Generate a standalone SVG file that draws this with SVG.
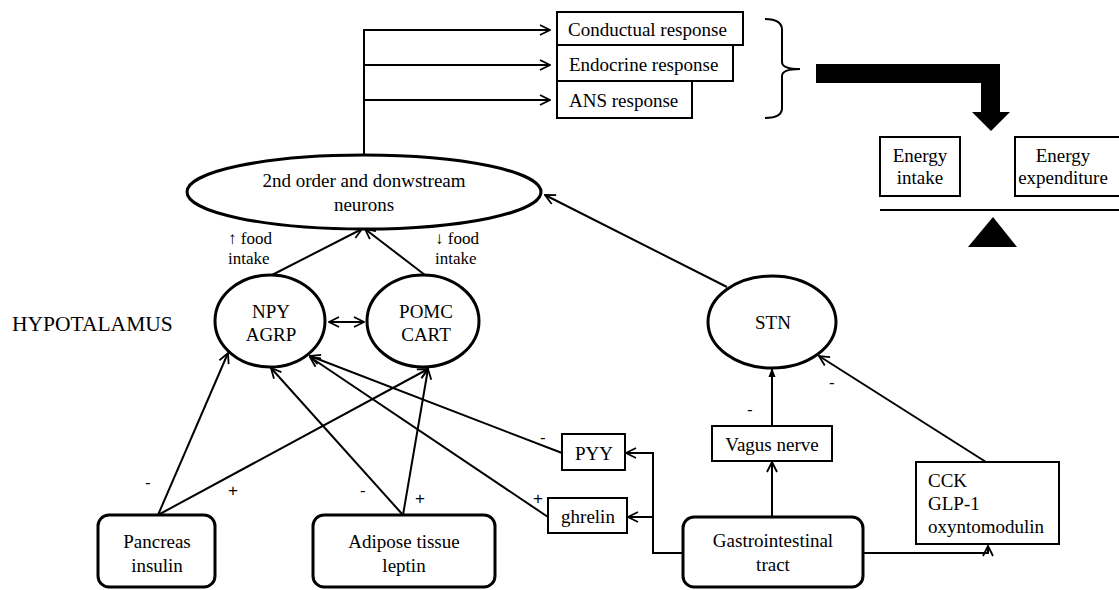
<svg xmlns="http://www.w3.org/2000/svg" width="1119" height="590" viewBox="0 0 1119 590">
<defs>
<marker id="open" viewBox="0 0 12 12" refX="11" refY="6" markerWidth="12" markerHeight="12" markerUnits="userSpaceOnUse" orient="auto-start-reverse">
<path d="M1,1 L11,6 L1,11" fill="none" stroke="#000" stroke-width="1.8"/>
</marker>
<marker id="solid" viewBox="0 0 10 10" refX="9" refY="5" markerWidth="9" markerHeight="9" markerUnits="userSpaceOnUse" orient="auto">
<path d="M0,1 L10,5 L0,9 z" fill="#000"/>
</marker>
<style>
text{font-family:'Liberation Serif','Times New Roman','DejaVu Serif',serif;fill:#000;font-size:19px}
.c{text-anchor:middle}
.s{font-size:17px}
.sg{font-size:17px;font-family:'Liberation Sans',Arial,sans-serif}
.box{fill:#fff;stroke:#000;stroke-width:2}
.rbox{fill:#fff;stroke:#000;stroke-width:3}
.ell{fill:#fff;stroke:#000;stroke-width:3}
.ln{fill:none;stroke:#000;stroke-width:2}
</style>
</defs>
<rect width="1119" height="590" fill="#fff"/>

<g id="connectors">
<path class="ln" d="M364,155 V30 H550" marker-end="url(#open)"/>
<path class="ln" d="M364,65 H550" marker-end="url(#open)"/>
<path class="ln" d="M364,100 H550" marker-end="url(#open)"/>
<path class="ln" d="M272,275 L362,229" marker-end="url(#open)"/>
<path class="ln" d="M425,275 L365,229" marker-end="url(#open)"/>
<path class="ln" d="M329,322 H364" marker-start="url(#open)" marker-end="url(#open)"/>
<path class="ln" d="M727,287 L545,195" marker-end="url(#open)"/>
<path class="ln" d="M158,515 L228,353" marker-end="url(#open)"/>
<path class="ln" d="M158,515 L428,369" marker-end="url(#open)"/>
<path class="ln" d="M403,515 L271,368" marker-end="url(#open)"/>
<path class="ln" d="M403,515 L428,369" marker-end="url(#open)"/>
<path class="ln" d="M562,453 L310,356" marker-end="url(#open)"/>
<path class="ln" d="M548,517 L310,357" marker-end="url(#open)"/>
<path class="ln" d="M683,553 H653 V453 H626" marker-end="url(#open)"/>
<path class="ln" d="M653,517 H628" marker-end="url(#open)"/>
<path class="ln" d="M772,517 V462" marker-end="url(#open)"/>
<path class="ln" d="M772,426 V369" marker-end="url(#solid)"/>
<path class="ln" d="M986,462 L819,356" marker-end="url(#open)"/>
<path class="ln" d="M863,553 H988 V546" marker-end="url(#open)"/>
</g>

<g id="response-boxes" font-family="Liberation Serif, serif">
<g id="conductual"><rect class="box" x="557" y="12" width="186" height="33"/><text x="568" y="36">Conductual response</text></g>
<g id="endocrine"><rect class="box" x="557" y="45" width="176" height="36"/><text x="569" y="71">Endocrine response</text></g>
<g id="ans"><rect class="box" x="557" y="81" width="135" height="37"/><text x="569" y="107">ANS response</text></g>
</g>

<g id="bracket">
<path class="ln" d="M765,19 Q782,19 782,30 V62 Q782,69 800,69 Q782,69 782,76 V108 Q782,118 765,118"/>
</g>

<g id="big-arrow">
<path d="M816,64 H1000 V112 H1010 L991,131 L972,112 H981 V83 H816 z" fill="#000"/>
</g>

<g id="energy-intake"><rect class="box" x="880" y="137" width="80" height="59"/><text class="c" x="920" y="162">Energy</text><text class="c" x="920" y="184">intake</text></g>
<g id="energy-expenditure"><rect class="box" x="1015" y="137" width="110" height="59"/><text class="c" x="1063" y="162">Energy</text><text class="c" x="1063" y="184">expenditure</text></g>
<g id="balance">
<line x1="880" y1="210" x2="1119" y2="210" stroke="#000" stroke-width="2"/>
<path d="M968,247 L993,217 L1017,247 z" fill="#000"/>
</g>

<g id="second-order">
<ellipse class="ell" cx="364" cy="192" rx="177" ry="37"/>
<text class="c" x="364" y="187">2nd order and donwstream</text>
<text class="c" x="364" y="211">neurons</text>
</g>

<g id="labels">
<text class="s" x="228" y="244">↑ food</text>
<text class="s" x="228" y="264">intake</text>
<text class="s" x="435" y="244">↓ food</text>
<text class="s" x="435" y="264">intake</text>
<text x="12" y="331" style="font-size:21.5px">HYPOTALAMUS</text>
<text class="sg" x="145" y="488">-</text>
<text class="sg" x="228" y="496">+</text>
<text class="sg" x="360" y="496">-</text>
<text class="sg" x="415" y="504">+</text>
<text class="sg" x="540" y="443">-</text>
<text class="sg" x="533" y="504">+</text>
<text class="sg" x="747" y="415">-</text>
<text class="sg" x="829" y="388">-</text>
</g>

<g id="npy"><ellipse class="ell" cx="270" cy="321" rx="55" ry="46"/><text class="c" x="271" y="318">NPY</text><text class="c" x="271" y="341">AGRP</text></g>
<g id="pomc"><ellipse class="ell" cx="423" cy="321" rx="56" ry="46"/><text class="c" x="426" y="318">POMC</text><text class="c" x="426" y="341">CART</text></g>
<g id="stn"><ellipse class="ell" cx="772" cy="322" rx="64" ry="46"/><text class="c" x="773" y="329">STN</text></g>

<g id="pancreas"><rect class="rbox" x="98" y="515" width="117" height="72" rx="11"/><text class="c" x="157" y="548">Pancreas</text><text class="c" x="157" y="572">insulin</text></g>
<g id="adipose"><rect class="rbox" x="313" y="515" width="182" height="72" rx="11"/><text class="c" x="404" y="548">Adipose tissue</text><text class="c" x="404" y="572">leptin</text></g>
<g id="pyy"><rect class="box" x="562" y="434" width="63" height="36"/><text class="c" x="594" y="460">PYY</text></g>
<g id="ghrelin"><rect class="box" x="548" y="498" width="79" height="35"/><text class="c" x="588" y="523">ghrelin</text></g>
<g id="gi"><rect class="rbox" x="683" y="517" width="180" height="70" rx="11"/><text class="c" x="773" y="547">Gastrointestinal</text><text class="c" x="773" y="571">tract</text></g>
<g id="vagus"><rect class="box" x="712" y="426" width="120" height="35"/><text class="c" x="772" y="451">Vagus nerve</text></g>
<g id="cck"><rect class="box" x="916" y="462" width="143" height="82"/><text x="928" y="487">CCK</text><text x="928" y="510">GLP-1</text><text x="928" y="533">oxyntomodulin</text></g>
</svg>
